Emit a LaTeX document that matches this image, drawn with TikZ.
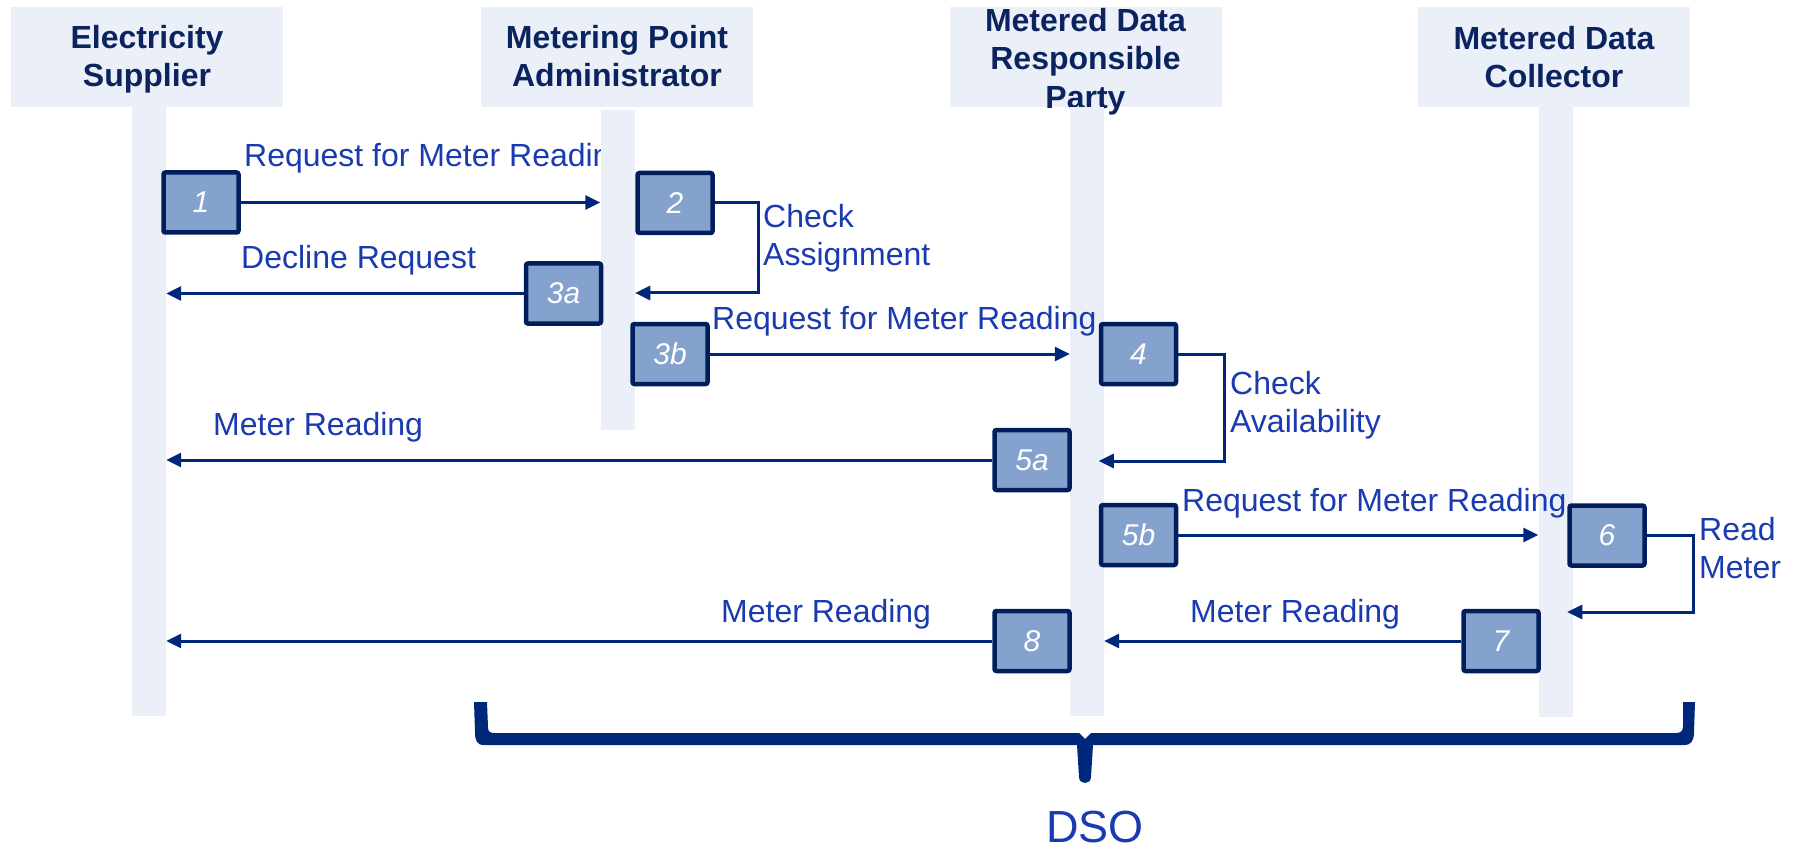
\documentclass[tikz,border=0pt]{standalone}
\usepackage{fontspec}
\setmainfont{Liberation Sans}
\usetikzlibrary{arrows.meta}
\definecolor{lane}{HTML}{EBF0F8}
\definecolor{boxfill}{HTML}{84A2CD}
\definecolor{boxline}{HTML}{001E5C}
\definecolor{arrblue}{HTML}{00287A}
\definecolor{lblblue}{HTML}{1A3AB0}
\definecolor{hdrblue}{HTML}{0B2460}
\begin{document}
\begin{tikzpicture}[x=1pt,y=-1pt,
  hdr/.style={fill=lane, draw=none, inner sep=0pt, minimum width=272pt, minimum height=100pt},
  hdrtxt/.style={font=\fontsize{32}{38.5}\selectfont\bfseries, text=hdrblue, align=center, inner sep=0pt, anchor=north},
  lifeline/.style={fill=lane, draw=none, inner sep=0pt, minimum width=34pt},
  stepbox/.style={fill=boxfill, draw=boxline, line width=4.5pt, rounded corners=2pt, minimum width=75pt, minimum height=60pt, inner sep=0pt, font=\fontsize{30}{36}\selectfont\itshape, text=white},
  lbl/.style={font=\fontsize{32}{38}\selectfont, text=lblblue, inner sep=0pt},
  arr/.style={draw=arrblue, line width=3pt, -{Triangle[length=15pt,width=14pt]}},
  bracefill/.style={fill=arrblue}
]
\useasboundingbox (0,0) rectangle (1796,850);

% headers
\node[hdr] (esh) at (147,57) {};
\node[hdr] (mpah) at (617,57) {};
\node[hdr] (mdrph) at (1085.5,57) {};
\node[hdr] (mdch) at (1554,57) {};
\node[hdrtxt] (esht) at (147,25) {Electricity\\Supplier};
\node[hdrtxt] (mpaht) at (617,25) {Metering Point\\Administrator};
\node[hdrtxt] (mdrpht) at (1085.5,8) {Metered Data\\Responsible\\Party};
\node[hdrtxt] (mdcht) at (1554,26) {Metered Data\\Collector};

% first label (partly hidden by the lifeline)
\node[lbl, anchor=base west] (l1) at (244,167) {Request for Meter Reading};

% lifelines
\node[lifeline, minimum height=609pt] (esl) at (149,411.5) {};
\node[lifeline, minimum height=320pt] (mpal) at (617.5,270) {};
\node[lifeline, minimum height=609pt] (mdrpl) at (1087,411.5) {};
\node[lifeline, minimum height=610pt] (mdcl) at (1555.5,412) {};

% labels
\node[lbl, anchor=north west, align=left] (l2) at (763,204) {Check\\Assignment};
\node[lbl, anchor=base west] (l3a) at (241,269) {Decline Request};
\node[lbl, anchor=base west] (l3b) at (712,329) {Request for Meter Reading};
\node[lbl, anchor=north west, align=left] (l4) at (1230,371) {Check\\Availability};
\node[lbl, anchor=base west] (l5a) at (213,435) {Meter Reading};
\node[lbl, anchor=base west] (l5b) at (1182,511) {Request for Meter Reading};
\node[lbl, anchor=north west, align=left] (l6) at (1699,517) {Read\\Meter};
\node[lbl, anchor=base west] (l8) at (721,622) {Meter Reading};
\node[lbl, anchor=base west] (l7) at (1190,622) {Meter Reading};

% step boxes
\node[stepbox] (b1) at (201,202.5) {1};
\node[stepbox] (b2) at (675,203) {2};
\node[stepbox] (b3a) at (563.5,293.5) {3a};
\node[stepbox] (b3b) at (670,354) {3b};
\node[stepbox] (b4) at (1138.5,354) {4};
\node[stepbox] (b5a) at (1032,460) {5a};
\node[stepbox] (b5b) at (1138.5,535) {5b};
\node[stepbox] (b6) at (1607,535.5) {6};
\node[stepbox] (b7) at (1501,641) {7};
\node[stepbox] (b8) at (1032,641) {8};

% corner points of the self messages
\coordinate (k2) at (758,293);
\coordinate (k4) at (1224,461);
\coordinate (k6) at (1693,612);

% connectors
\draw[arr] (b1.east) -- (b1.east -| mpal.west);
\draw[arr] (b2.east) -| (k2) -- (b2.west |- k2);
\draw[arr] (b3a.west) -- (b3a.west -| esl.east);
\draw[arr] (b3b.east) -- (b3b.east -| mdrpl.west);
\draw[arr] (b4.east) -| (k4) -- (b4.west |- k4);
\draw[arr] (b5a.west) -- (b5a.west -| esl.east);
\draw[arr] (b5b.east) -- (b5b.east -| mdcl.west);
\draw[arr] (b6.east) -| (k6) -- (b6.west |- k6);
\draw[arr] (b7.west) -- (b7.west -| mdrpl.east);
\draw[arr] (b8.west) -- (b8.west -| esl.east);

% brace
\fill[bracefill] (474,702) -- (487,702) -- (488,727)
  .. controls (488,732) and (490,733) .. (495,733) -- (1079,733) -- (1085,739) -- (1091,733) -- (1676,733)
  .. controls (1681,733) and (1683,731) .. (1683,726) -- (1683,702) -- (1695,702) -- (1694,732)
  .. controls (1694,741) and (1691,745) .. (1684,745) -- (1093,745) -- (1091,777)
  .. controls (1091,785) and (1079,785) .. (1079,777) -- (1077,745) -- (484,745)
  .. controls (477,745) and (475,741) .. (475,732) -- cycle;

\node[font=\fontsize{45}{54}\selectfont, text=lblblue, anchor=base, inner sep=0pt] (dso) at (1095,842) {DSO};
\end{tikzpicture}
\end{document}
